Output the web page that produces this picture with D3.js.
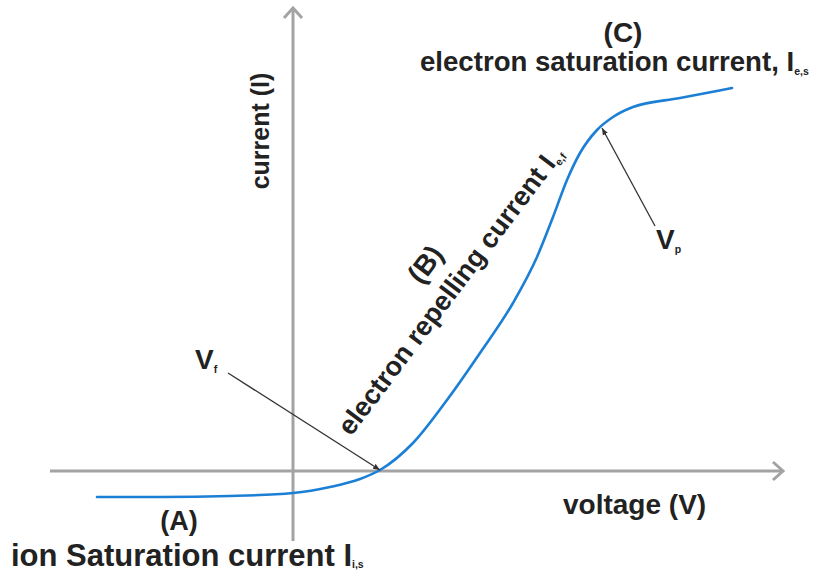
<!DOCTYPE html>
<html>
<head>
<meta charset="utf-8">
<script src="https://cdn.jsdelivr.net/npm/d3@7"></script>
<style>
  html, body { margin: 0; padding: 0; background: #fff; }
  svg { display: block; }
  text { font-family: "Liberation Sans", Arial, sans-serif; font-weight: bold; fill: #222; }
</style>
</head>
<body>
<svg id="chart" width="817" height="572"></svg>
<script>
// Langmuir probe I–V characteristic (arbitrary units)
const voltage = [-19.6, -13.3, -6.3, 0, 3.7, 6.7, 8.7, 12.0, 15.4, 18.7, 22.0, 24.4, 26.0, 27.4, 28.7, 30.4, 32.0, 34.0, 38.7, 43.9];
const current = [-2.6, -2.6, -2.5, -2.2, -1.6, -0.8, 0.1, 2.8, 7.1, 11.8, 16.8, 21.4, 25.4, 29.1, 31.8, 34.1, 35.4, 36.4, 37.3, 38.3];

// characteristic voltages
const floatingPotential = 8.7;   // V_f : current crosses zero
const plasmaPotential = 30.9;    // V_p : knee of the curve

const axisExtentV = [-24.3, 49];
const axisExtentI = [-7, 46.3];

const svg = d3.select("#chart");

const x = d3.scaleLinear().domain([-25, 50]).range([43, 793]);
const y = d3.scaleLinear().domain([-7, 46]).range([541, 11]);

const curve = voltage.map((v, i) => [v, current[i]]);
const lineGen = d3.line().x(d => x(d[0])).y(d => y(d[1])).curve(d3.curveMonotoneX);
const interp = (v) => {
  // linear lookup of the current at a given voltage
  for (let i = 0; i < voltage.length - 1; i++) {
    if (v >= voltage[i] && v <= voltage[i + 1]) {
      const t = (v - voltage[i]) / (voltage[i + 1] - voltage[i]);
      return current[i] + t * (current[i + 1] - current[i]);
    }
  }
  return 0;
};

const defs = svg.append("defs");
defs.append("marker")
  .attr("id", "thin-arrow")
  .attr("viewBox", "0 0 10 10")
  .attr("refX", 10).attr("refY", 5)
  .attr("markerWidth", 7).attr("markerHeight", 7)
  .attr("markerUnits", "userSpaceOnUse")
  .attr("orient", "auto")
  .append("path").attr("d", "M0,1 L10,5 L0,9 Z").attr("fill", "#333");

// axes (open chevron arrowheads)
const axisColor = "#a3a3a3";
const g = svg.append("g");
g.append("line")
  .attr("x1", x(axisExtentV[0])).attr("x2", x(axisExtentV[1]))
  .attr("y1", y(0)).attr("y2", y(0))
  .attr("stroke", axisColor).attr("stroke-width", 3);
g.append("path")
  .attr("d", `M${x(axisExtentV[1]) - 10},${y(0) - 9} L${x(axisExtentV[1])},${y(0)} L${x(axisExtentV[1]) - 10},${y(0) + 9}`)
  .attr("fill", "none").attr("stroke", axisColor).attr("stroke-width", 3);

g.append("line")
  .attr("x1", x(0)).attr("x2", x(0))
  .attr("y1", y(axisExtentI[0])).attr("y2", y(axisExtentI[1]))
  .attr("stroke", axisColor).attr("stroke-width", 3);
g.append("path")
  .attr("d", `M${x(0) - 9},${y(axisExtentI[1]) + 10} L${x(0)},${y(axisExtentI[1])} L${x(0) + 9},${y(axisExtentI[1]) + 10}`)
  .attr("fill", "none").attr("stroke", axisColor).attr("stroke-width", 3);

// I–V curve
svg.append("path")
  .datum(curve)
  .attr("d", lineGen)
  .attr("fill", "none")
  .attr("stroke", "#1b7fd6")
  .attr("stroke-width", 2.6)
  .attr("stroke-linecap", "round");

// annotation arrows
const vfX = x(floatingPotential), vfY = y(interp(floatingPotential));
svg.append("line")
  .attr("x1", 228).attr("y1", 373)
  .attr("x2", vfX).attr("y2", vfY)
  .attr("stroke", "#333").attr("stroke-width", 1.3)
  .attr("marker-end", "url(#thin-arrow)");

const vpX = x(plasmaPotential), vpY = y(interp(plasmaPotential));
svg.append("line")
  .attr("x1", 655).attr("y1", 226)
  .attr("x2", vpX).attr("y2", vpY + 2)
  .attr("stroke", "#333").attr("stroke-width", 1.3)
  .attr("marker-end", "url(#thin-arrow)");

// labels
function label(parent, xPos, yPos, main, sub, size, anchor, rotate, subShift) {
  const t = parent.append("text")
    .attr("x", xPos).attr("y", yPos)
    .attr("font-size", size)
    .attr("text-anchor", anchor || "start");
  if (rotate) t.attr("transform", `rotate(${rotate},${xPos},${yPos})`);
  t.append("tspan").text(main);
  if (sub) {
    t.append("tspan").attr("font-size", 10.5).attr("dy", subShift != null ? subShift : 4).text(sub);
  }
  return t;
}

label(svg, 623, 42, "(C)", null, 28, "middle");
label(svg, 420, 71, "electron saturation current, I", "e,s", 27.6, "start");

label(svg, 179, 530, "(A)", null, 27, "middle");
label(svg, 11, 566, "ion Saturation current I", "i,s", 31, "start", null, 2);

label(svg, 563, 514, "voltage (V)", null, 28, "start");
label(svg, 269, 131, "current (I)", null, 25, "middle", -90);

label(svg, 195, 369, "V", "f", 28, "start");
label(svg, 656, 249, "V", "p", 28, "start");

label(svg, 433, 270, "(B)", null, 28, "middle", -53);
label(svg, 351, 437, "electron repelling current I", "e,f", 27.1, "start", -53);
</script>
</body>
</html>
